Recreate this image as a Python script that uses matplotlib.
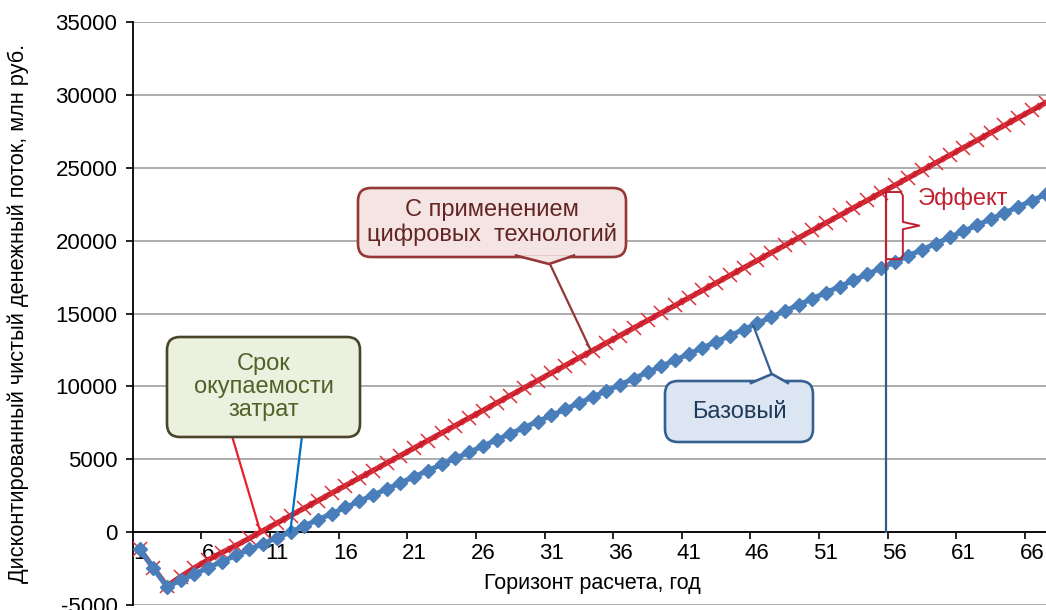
import numpy as np
import matplotlib.pyplot as plt
import matplotlib.transforms as mtransforms
from matplotlib.patches import FancyBboxPatch, Polygon
from matplotlib.lines import Line2D

plt.rcParams['font.family'] = ['Liberation Sans', 'DejaVu Sans']
plt.rcParams['axes.unicode_minus'] = False

years = np.arange(1, 68)

# discounted net cash flow, mln rub.
digital = [-1150, -2450, -3700, -3050, -2450, -1900, -1400, -930, -420, 100,
           620, 1130, 1650, 2160, 2680, 3190, 3710, 4220, 4740, 5250,
           5770, 6280, 6800, 7310, 7830, 8340, 8860, 9370, 9890, 10400,
           10920, 11430, 11950, 12460, 12980, 13490, 14010, 14520, 15040, 15550,
           16070, 16580, 17100, 17610, 18130, 18640, 19160, 19670, 20190, 20700,
           21220, 21730, 22250, 22760, 23280, 23790, 24310, 24820, 25340, 25850,
           26370, 26880, 27400, 27910, 28430, 28940, 29460]
base = [-1150, -2450, -3750, -3300, -2870, -2440, -2020, -1600, -1190, -790,
        -390, 10, 430, 850, 1270, 1690, 2120, 2540, 2960, 3380,
        3800, 4220, 4640, 5060, 5480, 5900, 6330, 6750, 7170, 7590,
        8010, 8430, 8850, 9270, 9690, 10110, 10540, 10960, 11380, 11800,
        12220, 12640, 13060, 13480, 13900, 14320, 14750, 15170, 15590, 16010,
        16430, 16850, 17270, 17690, 18110, 18530, 18960, 19380, 19800, 20220,
        20640, 21060, 21480, 21900, 22320, 22740, 23170]

xtick_years = list(range(1, 67, 5))
effect_year = 55.4
digital_pointer_year = 33.9
base_pointer_year = 45.7

W, H = 1046, 610
fig = plt.figure(figsize=(W / 100, H / 100), dpi=100)
ax = fig.add_axes([132.7 / W, 5 / H, (1052.5 - 132.7) / W, 583 / H])

# image-pixel coordinates (origin top left) for the callouts
pix = mtransforms.Affine2D().scale(1 / 100, -1 / 100).translate(0, H / 100) + fig.dpi_scale_trans

ax.set_xlim(0.5, 67.5)
ax.set_ylim(-5000, 35000)
ax.set_yticks(range(-5000, 35001, 5000))
ax.yaxis.grid(True, color='#A6A6A6', lw=1.3)
ax.set_axisbelow(True)
for s in ['top', 'right']:
    ax.spines[s].set_visible(False)
ax.spines['bottom'].set_position(('data', 0))
ax.spines['bottom'].set_linewidth(1.3)
ax.spines['left'].set_linewidth(1.3)
ax.tick_params(axis='y', direction='out', length=5, width=1.2, labelsize=16, pad=6)
ax.set_xticks(xtick_years)
ax.set_xticks([y - 0.5 for y in xtick_years[1:]], minor=True)
ax.tick_params(axis='x', which='major', length=0, labelsize=16, pad=8)
ax.tick_params(axis='x', which='minor', direction='out', length=5, width=1.2)

ax.plot(years, digital, color='#C41E2C', lw=3.8, marker='x', ms=10, mew=1.1,
        mec='#E0303A', zorder=3)
ax.plot(years, base, color='#4A7EBB', lw=3.6, marker='D', ms=7, mec='#4A7EBB', zorder=4)

ax.text(0.5, (605 - 583) / 583, 'Горизонт расчета, год', transform=ax.transAxes,
        ha='center', va='center', fontsize=15.5)
fig.text(18, 313, 'Дисконтированный чистый денежный поток, млн руб.', transform=pix,
         rotation=90, ha='center', va='center', fontsize=15.7)

# effect at the end of the horizon
red_e = np.interp(effect_year, years, digital)
base_e = np.interp(effect_year, years, base)
ax.plot([effect_year] * 2, [0, base_e], color='#2E5C8A', lw=1.6, zorder=5)
ax.plot([effect_year] * 2, [base_e, red_e], color='#C0202F', lw=1.6, zorder=5)
top, bot = red_e - 150, base_e + 450
mid = (top + bot) / 2
d = 250
ax.plot([effect_year + 0.05, 56.45, 56.6, 56.6, 57.8, 56.6, 56.6, 56.45, effect_year + 0.05],
        [top, top, top - d, mid + d, mid, mid - d, bot + d, bot, bot],
        color='#C0202F', lw=1.4, zorder=5)
fig.text(918, 199, 'Эффект', transform=pix, ha='left', va='center',
         fontsize=17, color='#C0202F')


def callout(x0, y0, x1, y1, face, edge, lines, tcolor, ls=1.3):
    box = FancyBboxPatch((x0, y0), x1 - x0, y1 - y0,
                         boxstyle='round,pad=0,rounding_size=13',
                         transform=pix, fc=face, ec=edge, lw=1.9, zorder=6)
    fig.add_artist(box)
    fig.text((x0 + x1) / 2, (y0 + y1) / 2, lines, transform=pix, ha='center',
             va='center', fontsize=17, color=tcolor, linespacing=ls, zorder=8)


def notch(pts, face, edge):
    fig.add_artist(Polygon(pts, closed=True, transform=pix, fc=face, ec='none', zorder=7))
    xs, ys = zip(*[pts[0], pts[1], pts[2]])
    fig.add_artist(Line2D(xs, ys, transform=pix, color=edge, lw=1.9, zorder=7))


def pointer(xy, start, color, lw=1.6):
    fx, fy = pix.transform(start)
    fx, fy = fig.transFigure.inverted().transform((fx, fy))
    ax.annotate('', xy=xy, xycoords='data', xytext=(fx, fy), textcoords='figure fraction',
                arrowprops=dict(arrowstyle='-', color=color, lw=lw, shrinkA=0, shrinkB=0),
                zorder=5)


# "digital" callout
pointer((digital_pointer_year, np.interp(digital_pointer_year, years, digital)),
        (549, 262), '#953735')
callout(358, 188, 626, 257, '#F5E4E4', '#953735',
        'С применением\nцифровых  технологий', '#632523', ls=1.15)
notch([(516, 255.5), (549, 264), (574, 255.5)], '#F5E4E4', '#953735')

# payback callout
pay_red = np.interp(0, digital, years)
pay_base = np.interp(0, base, years)
pointer((pay_red, 0), (232, 436), '#E8202A')
pointer((pay_base, 0), (302, 436), '#0070C0')
callout(167, 337, 360, 437, '#EBF1DE', '#4A452A',
        'Срок\nокупаемости\nзатрат', '#4F6228', ls=1.05)

# base callout
pointer((base_pointer_year, np.interp(base_pointer_year, years, base)),
        (772, 375), '#376092')
callout(665, 381, 813, 442, '#DCE6F2', '#376092', 'Базовый', '#1F3B5A')
notch([(751, 383), (772, 374), (788, 383)], '#DCE6F2', '#376092')

fig.savefig('out.png', dpi=100)
